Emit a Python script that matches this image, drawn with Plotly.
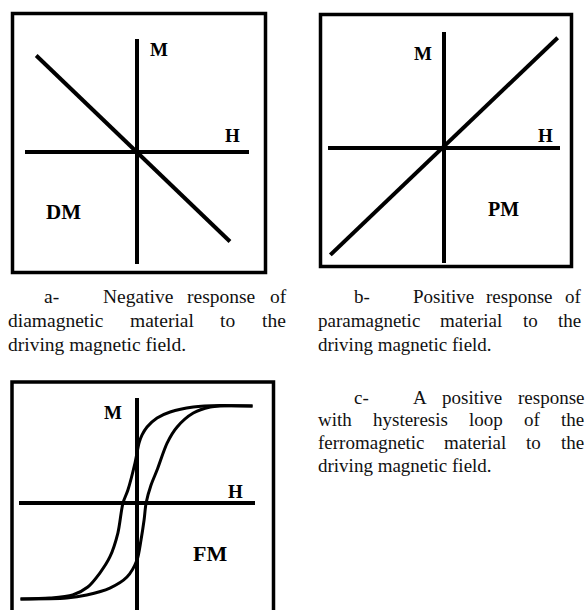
import plotly.graph_objects as go

W, H = 586, 610

# --- curve data (H along x, M along y, normalised units) ---
H_dm = [-0.90, 0.83]
M_dm = [0.853, -0.80]

H_pm = [-0.98, 0.98]
M_pm = [-0.93, 0.95]

# descending branch of the hysteresis loop (from +saturation to -saturation)
H_fm_down = [0.979, 0.706, 0.477, 0.281, 0.170, 0.085, 0.043, 0.017, -0.017, -0.077,
             -0.119, -0.162, -0.230, -0.315, -0.417, -0.545, -0.740, -0.987]
M_fm_down = [0.924, 0.929, 0.914, 0.867, 0.810, 0.724, 0.648, 0.571, 0.381, 0.124,
             0.000, -0.286, -0.514, -0.667, -0.800, -0.876, -0.905, -0.914]
# ascending branch (from -saturation to +saturation)
H_fm_up = [-0.987, -0.596, -0.426, -0.230, -0.085, 0.000, 0.034, 0.060, 0.077, 0.119,
           0.170, 0.255, 0.340, 0.477, 0.621, 0.706, 0.979]
M_fm_up = [-0.914, -0.905, -0.876, -0.810, -0.705, -0.543, -0.352, -0.162, 0.000, 0.171,
           0.314, 0.571, 0.724, 0.857, 0.914, 0.924, 0.924]

axis_labels = ["M", "H"]
material_labels = ["DM", "PM", "FM"]

# caption lines: (item mark, first line, following lines...)
caption_a = ["a-", "Negative response of",
             "diamagnetic material to the",
             "driving magnetic field."]
caption_b = ["b-", "Positive response of",
             "paramagnetic material to the",
             "driving magnetic field."]
caption_c = ["c-", "A positive response",
             "with hysteresis loop of the",
             "ferromagnetic material to the",
             "driving magnetic field."]


def fx(x):
    return x / W


def fy(y):
    return 1 - y / H


fig = go.Figure()

line_style = dict(color="black", width=4)
fig.add_trace(go.Scatter(x=H_dm, y=M_dm, mode="lines", line=line_style,
                         xaxis="x", yaxis="y", showlegend=False, hoverinfo="skip"))
fig.add_trace(go.Scatter(x=H_pm, y=M_pm, mode="lines", line=line_style,
                         xaxis="x2", yaxis="y2", showlegend=False, hoverinfo="skip"))
loop_style = dict(color="black", width=3, shape="spline", smoothing=0.8)
fig.add_trace(go.Scatter(x=H_fm_down, y=M_fm_down, mode="lines", line=loop_style,
                         xaxis="x3", yaxis="y3", showlegend=False, hoverinfo="skip"))
fig.add_trace(go.Scatter(x=H_fm_up, y=M_fm_up, mode="lines", line=loop_style,
                         xaxis="x3", yaxis="y3", showlegend=False, hoverinfo="skip"))

ax_common = dict(showgrid=False, showticklabels=False, ticks="", showline=False,
                 zeroline=True, zerolinecolor="black", zerolinewidth=4,
                 fixedrange=True)

fig.update_layout(
    width=W, height=H,
    margin=dict(l=0, r=0, t=0, b=0),
    paper_bgcolor="white", plot_bgcolor="rgba(0,0,0,0)",
    xaxis=dict(domain=[fx(25), fx(249)], range=[-1, 1], anchor="y", **ax_common),
    yaxis=dict(domain=[fy(264), fy(39)], range=[-1, 1], anchor="x", **ax_common),
    xaxis2=dict(domain=[fx(328), fx(560)], range=[-1, 1], anchor="y2", **ax_common),
    yaxis2=dict(domain=[fy(263), fy(32)], range=[-1, 1], anchor="x2", **ax_common),
    xaxis3=dict(domain=[fx(19), fx(255)], range=[-1, 1], anchor="y3", **ax_common),
    yaxis3=dict(domain=[0, fy(398)], range=[-107 / 105, 1], anchor="x3", **ax_common),
)

# frames around each panel
box = dict(type="rect", xref="paper", yref="paper",
           line=dict(color="black", width=3.5), fillcolor="rgba(0,0,0,0)")
fig.add_shape(x0=fx(12.5), x1=fx(265.5), y0=fy(272.5), y1=fy(13.5), **box)
fig.add_shape(x0=fx(320.5), x1=fx(571.5), y0=fy(266.5), y1=fy(14.5), **box)
fig.add_shape(x0=fx(12), x1=fx(273.5), y0=fy(650), y1=fy(382), **box)

serif = "Liberation Serif, Times New Roman, serif"


def label(text, x, y, size):
    fig.add_annotation(text="<b>%s</b>" % text, x=fx(x), y=fy(y), xref="paper", yref="paper",
                       showarrow=False, xanchor="center", yanchor="middle",
                       font=dict(family=serif, size=size, color="black"))


label(axis_labels[0], 159, 49, 19)
label(axis_labels[1], 232, 135, 19)
label(material_labels[0], 63, 212, 21)

label(axis_labels[0], 423, 53, 19)
label(axis_labels[1], 545, 135, 19)
label(material_labels[1], 503, 209, 20)

label(axis_labels[0], 113, 412, 19)
label(axis_labels[1], 235, 491, 19)
label(material_labels[2], 210, 553, 22)

# --- justified caption text (Times-style advance widths, 1/1000 em) ---
ADV = dict(a=444, b=500, c=444, d=500, e=444, f=333, g=500, h=500, i=278, j=278,
           k=500, l=278, m=778, n=500, o=500, p=500, q=500, r=333, s=389, t=278,
           u=500, v=500, w=722, x=500, y=500, z=444)
ADV.update({"-": 333, ".": 250, "A": 722, "N": 722, "P": 556, " ": 250})


def text_width(s, fs):
    return sum(ADV.get(ch, 500) for ch in s) * fs / 1000.0


def put(text, x, y, fs):
    fig.add_annotation(text=text, x=fx(x), y=fy(y), xref="paper", yref="paper",
                       showarrow=False, xanchor="left", yanchor="middle", borderpad=0,
                       font=dict(family=serif, size=fs, color="#111111"))


def justify(line, left, right, y, fs):
    words = line.split(" ")
    total = sum(text_width(w, fs) for w in words)
    gap = (right - left - total) / max(len(words) - 1, 1)
    x = left
    for w in words:
        put(w, x, y, fs)
        x += text_width(w, fs) + gap


def caption(lines, left, right, y0, step, fs):
    put(lines[0], left + 36, y0, fs)
    justify(lines[1], left + 95, right, y0, fs)
    for k, ln in enumerate(lines[2:], start=1):
        y = y0 + k * step
        if k == len(lines) - 2:
            put(ln, left, y, fs)
        else:
            justify(ln, left, right, y, fs)


caption(caption_a, 7, 285, 296, 24, 19.5)
caption(caption_b, 317, 580, 296, 24, 19)
caption(caption_c, 317, 583, 397, 22.7, 19)

fig.write_html("out.html")
